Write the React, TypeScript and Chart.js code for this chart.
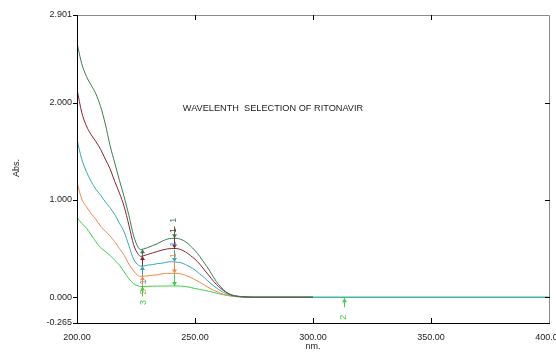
import React, { useEffect, useRef } from "react";
import { Chart, registerables } from "chart.js";

Chart.register(...registerables);

// Wavelength grid (nm) for the scanned region
const waveScan = [200, 202, 204, 206, 208, 210, 212, 214, 216, 218, 220, 222, 224, 226, 227, 228, 230, 232, 234, 236, 238, 240, 242, 244, 246, 248, 250, 252, 254, 256, 258, 260, 262, 264, 266, 268, 270, 275, 280, 290, 300];
const waveTail = [350, 400];

// Absorbance of five concentrations
const absC5 = [2.615, 2.4, 2.27, 2.18, 2.09, 1.96, 1.78, 1.56, 1.38, 1.2, 1.03, 0.84, 0.63, 0.51, 0.49, 0.495, 0.51, 0.53, 0.55, 0.575, 0.595, 0.605, 0.605, 0.595, 0.57, 0.53, 0.48, 0.42, 0.35, 0.28, 0.2, 0.13, 0.08, 0.04, 0.02, 0.01, 0.005, 0, 0, 0, 0];
const absC4 = [2.14, 1.9, 1.76, 1.67, 1.6, 1.52, 1.42, 1.32, 1.19, 1.07, 0.93, 0.74, 0.54, 0.44, 0.42, 0.425, 0.44, 0.455, 0.47, 0.485, 0.495, 0.5, 0.5, 0.49, 0.465, 0.43, 0.39, 0.34, 0.28, 0.22, 0.16, 0.11, 0.07, 0.04, 0.02, 0.01, 0.005, 0, 0, 0, 0];
const absC3 = [1.62, 1.42, 1.29, 1.19, 1.11, 1.05, 0.98, 0.92, 0.85, 0.76, 0.67, 0.53, 0.39, 0.33, 0.32, 0.32, 0.33, 0.335, 0.345, 0.35, 0.36, 0.365, 0.36, 0.355, 0.335, 0.31, 0.28, 0.24, 0.2, 0.155, 0.115, 0.08, 0.05, 0.03, 0.015, 0.008, 0.004, 0, 0, 0, 0];
const absC3Tail = [0, 0];
const absC2 = [1.18, 1.01, 0.93, 0.86, 0.8, 0.73, 0.68, 0.63, 0.57, 0.5, 0.43, 0.34, 0.27, 0.22, 0.215, 0.215, 0.22, 0.225, 0.23, 0.24, 0.245, 0.245, 0.245, 0.24, 0.225, 0.205, 0.18, 0.155, 0.125, 0.095, 0.07, 0.05, 0.03, 0.018, 0.01, 0.005, 0.002, 0, 0, 0, 0];
const absC1 = [0.82, 0.76, 0.71, 0.64, 0.57, 0.51, 0.47, 0.43, 0.38, 0.33, 0.26, 0.19, 0.14, 0.115, 0.11, 0.11, 0.112, 0.113, 0.114, 0.115, 0.115, 0.116, 0.116, 0.114, 0.11, 0.1, 0.09, 0.08, 0.07, 0.06, 0.048, 0.036, 0.026, 0.018, 0.01, 0.005, 0.002, 0, 0, 0, 0];
const absC1Tail = [0, 0];

const seriesColors = ["#3a7d52", "#8a2231", "#3aa5bd", "#f28a45", "#3fd043"];

// Axis ticks
const xTicks = [200, 250, 300, 350, 400];
const yTicks = [-0.265, 0, 1, 2, 2.901];

// Peak-pick markers: wavelength and label per series
const peakWave = 241;
const peakLabels = ["1", "1", "1", "1", ""];
const valleyWave = 227.5;
const valleyLabels = ["", "", "1", "2", "3"];
const extraMarkWave = 313;
const extraMarkLabel = "2";

const chartTitle = "WAVELENTH  SELECTION OF RITONAVIR";
const yTitle = "Abs.";
const xTitle = "nm.";

const FONT = "Arial, 'Liberation Sans', sans-serif";

function toPoints(xs: number[], ys: number[]) {
  return xs.map((x, i) => ({ x, y: ys[i] }));
}

function interp(xs: number[], ys: number[], x: number) {
  for (let i = 0; i < xs.length - 1; i++) {
    if (x >= xs[i] && x <= xs[i + 1]) {
      const t = (x - xs[i]) / (xs[i + 1] - xs[i]);
      return ys[i] + t * (ys[i + 1] - ys[i]);
    }
  }
  return ys[ys.length - 1];
}

const seriesY = [absC5, absC4, absC3, absC2, absC1];

function drawArrow(ctx: CanvasRenderingContext2D, x: number, yFrom: number, yTo: number, color: string) {
  ctx.strokeStyle = color;
  ctx.fillStyle = color;
  ctx.lineWidth = 1;
  ctx.beginPath();
  ctx.moveTo(x + 0.5, yFrom);
  ctx.lineTo(x + 0.5, yTo);
  ctx.stroke();
  const dir = yTo > yFrom ? 1 : -1;
  ctx.beginPath();
  ctx.moveTo(x + 0.5, yTo);
  ctx.lineTo(x - 2, yTo - dir * 4);
  ctx.lineTo(x + 3, yTo - dir * 4);
  ctx.closePath();
  ctx.fill();
}

function drawRotLabel(ctx: CanvasRenderingContext2D, text: string, x: number, y: number, color: string) {
  if (!text) return;
  ctx.save();
  ctx.translate(x, y);
  ctx.rotate(-Math.PI / 2);
  ctx.fillStyle = color;
  ctx.font = `9px ${FONT}`;
  ctx.textAlign = "center";
  ctx.textBaseline = "middle";
  ctx.fillText(text, 0, 0);
  ctx.restore();
}

const decorPlugin = {
  id: "spectrumDecor",
  afterDatasetsDraw(chart: any) {
    const ctx: CanvasRenderingContext2D = chart.ctx;
    const xs = chart.scales.x;
    const ys = chart.scales.y;
    const area = chart.chartArea;
    ctx.save();

    // markers
    seriesY.forEach((vals, i) => {
      const c = seriesColors[i];
      const px = Math.round(xs.getPixelForValue(peakWave));
      const py = ys.getPixelForValue(interp(waveScan, vals, peakWave));
      drawArrow(ctx, px, py - 12, py, c);
      drawRotLabel(ctx, peakLabels[i], px, py - 18, c);
      const vx = Math.round(xs.getPixelForValue(valleyWave));
      const vy = ys.getPixelForValue(interp(waveScan, vals, valleyWave));
      drawArrow(ctx, vx, vy + 10, vy, c);
      drawRotLabel(ctx, valleyLabels[i], vx + 2, vy + 16, c);
    });
    const ex = Math.round(xs.getPixelForValue(extraMarkWave));
    const ey = ys.getPixelForValue(0);
    drawArrow(ctx, ex, ey + 10, ey + 1, seriesColors[4]);
    drawRotLabel(ctx, extraMarkLabel, ex, ey + 20, seriesColors[4]);

    // frame
    ctx.lineWidth = 1;
    ctx.strokeStyle = "#8a8a8a";
    ctx.beginPath();
    ctx.moveTo(area.left, area.top + 0.5);
    ctx.lineTo(area.right + 0.5, area.top + 0.5);
    ctx.lineTo(area.right + 0.5, area.bottom);
    ctx.stroke();
    ctx.strokeStyle = "#000";
    ctx.beginPath();
    ctx.moveTo(area.left + 0.5, area.top);
    ctx.lineTo(area.left + 0.5, area.bottom + 0.5);
    ctx.lineTo(area.right + 1, area.bottom + 0.5);
    ctx.stroke();

    // ticks
    ctx.beginPath();
    yTicks.forEach((v) => {
      const y = Math.round(ys.getPixelForValue(v)) + 0.5;
      ctx.moveTo(area.left - 4, y);
      ctx.lineTo(area.left + 1, y);
      if (v > yTicks[0] && v < yTicks[yTicks.length - 1]) {
        ctx.moveTo(area.right - 4, y);
        ctx.lineTo(area.right + 1, y);
      }
    });
    xTicks.forEach((v, i) => {
      if (i === 0 || i === xTicks.length - 1) return;
      const x = Math.round(xs.getPixelForValue(v)) + 0.5;
      ctx.moveTo(x, area.bottom - 5);
      ctx.lineTo(x, area.bottom);
      ctx.moveTo(x, area.top);
      ctx.lineTo(x, area.top + 5);
    });
    ctx.stroke();

    // texts
    ctx.fillStyle = "#222";
    ctx.font = `9.2px ${FONT}`;
    ctx.textAlign = "center";
    ctx.textBaseline = "middle";
    ctx.fillText(chartTitle, 273, 108);
    ctx.font = `9px ${FONT}`;
    ctx.fillText(xTitle, 313, 347);
    ctx.translate(17, 168);
    ctx.rotate(-Math.PI / 2);
    ctx.fillText(yTitle, 0, 0);
    ctx.restore();
  },
};

export default function App() {
  const ref = useRef<HTMLCanvasElement | null>(null);

  useEffect(() => {
    document.body.style.margin = "0";
    const canvas = ref.current;
    if (!canvas) return;
    const mk = (data: { x: number; y: number }[], color: string, order: number) => ({
      data,
      borderColor: color,
      backgroundColor: color,
      borderWidth: 1,
      pointRadius: 0,
      cubicInterpolationMode: "monotone",
      fill: false,
      order,
    });
    const chart = new Chart(canvas, {
      type: "line",
      data: {
        datasets: [
          mk(toPoints(waveScan, absC5), seriesColors[0], 0),
          mk(toPoints(waveScan, absC4), seriesColors[1], 1),
          mk(toPoints([...waveScan, ...waveTail], [...absC3, ...absC3Tail]), seriesColors[2], 2),
          mk(toPoints(waveScan, absC2), seriesColors[3], 3),
          mk(toPoints([...waveScan, ...waveTail], [...absC1, ...absC1Tail]), seriesColors[4], 4),
        ] as any,
      },
      options: {
        animation: false,
        responsive: false,
        events: [],
        layout: { padding: { top: 15, right: 7, left: 0, bottom: 0 } },
        plugins: { legend: { display: false }, tooltip: { enabled: false }, title: { display: false } },
        scales: {
          x: {
            type: "linear",
            min: 200,
            max: 400,
            grid: { display: false, drawTicks: false },
            border: { display: false },
            afterBuildTicks: (s: any) => {
              s.ticks = xTicks.map((v) => ({ value: v }));
            },
            afterFit: (s: any) => {
              s.height = 30;
              s.paddingLeft = 0;
              s.paddingRight = 0;
            },
            ticks: {
              padding: 9,
              maxRotation: 0,
              autoSkip: false,
              color: "#222",
              font: { family: FONT, size: 9 },
              callback: (v: any) => Number(v).toFixed(2),
            },
          },
          y: {
            type: "linear",
            min: yTicks[0],
            max: yTicks[yTicks.length - 1],
            grid: { display: false, drawTicks: false },
            border: { display: false },
            afterBuildTicks: (s: any) => {
              s.ticks = yTicks.map((v) => ({ value: v }));
            },
            afterFit: (s: any) => {
              s.width = 77;
              s.paddingTop = 0;
              s.paddingBottom = 0;
            },
            ticks: {
              padding: 5,
              autoSkip: false,
              color: "#222",
              font: { family: FONT, size: 9 },
              callback: (v: any) => Number(v).toFixed(3),
            },
          },
        },
      },
      plugins: [decorPlugin],
    });
    return () => chart.destroy();
  }, []);

  return (
    <div style={{ position: "absolute", left: 0, top: 0, width: 556, height: 353, background: "#fff" }}>
      <canvas ref={ref} width={556} height={353} style={{ display: "block" }} />
    </div>
  );
}
